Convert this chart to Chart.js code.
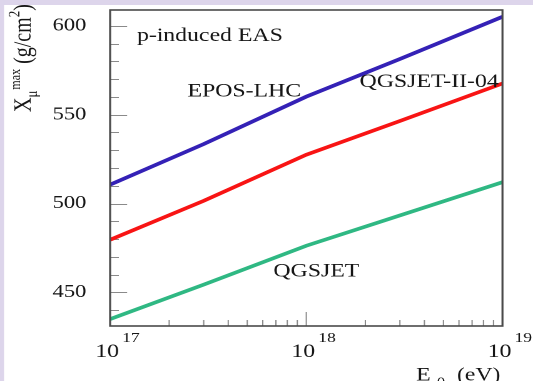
<!DOCTYPE html>
<html>
<head>
<meta charset="utf-8">
<title>Xmax muon - p-induced EAS</title>
<script src="https://cdn.jsdelivr.net/npm/chart.js@4/dist/chart.umd.min.js"></script>
<style>
  html, body { margin: 0; padding: 0; background: #ffffff; }
</style>
</head>
<body>
<!-- drawn 426 wide, shown 533 wide (ROOT-style wide aspect) -->
<canvas id="xmaxChart" width="426" height="381" style="width:533px;height:381px"></canvas>
<script>
// Primary energy E0 (eV)
const energies = [1e17, 3e17, 1e18, 3e18, 1e19];

// Muon production depth maximum Xmax (g/cm2) per hadronic model
const eposLhc    = [510.6, 533.5, 560.2, 581.4, 605.2];
const qgsjetII04 = [479.6, 501.5, 527.5, 546.5, 567.6];
const qgsjet     = [434.9, 454.3, 476.2, 493.3, 512.0];

// Axis ticks
const xTicks = [1e17, 1e18, 1e19];
const yTicks = [450, 500, 550, 600];

const SERIF = '"Liberation Serif", "Times New Roman", serif';
const INK = '#161616';

function toPoints(values) {
    return energies.map(function (e, i) { return { x: e, y: values[i] }; });
}

// Frame, inner ticks, exponent labels, titles and model names
const rootStyle = {
    id: 'rootStyle',
    beforeDraw: function (chart) {
        const ctx = chart.ctx;
        ctx.save();
        ctx.fillStyle = '#ffffff';
        ctx.fillRect(0, 0, chart.width, chart.height);
        ctx.fillStyle = '#ddd5eb';
        ctx.fillRect(0, 0, chart.width, 5);
        ctx.fillRect(0, 0, 3.2, chart.height);
        ctx.restore();
    },
    beforeDatasetsDraw: function (chart) {
        const ctx = chart.ctx;
        const area = chart.chartArea;
        const xs = chart.scales.x;
        const ys = chart.scales.y;
        ctx.save();
        ctx.strokeStyle = '#8a8a8a';
        ctx.lineWidth = 1;
        ctx.beginPath();
        // y ticks every 10, long ones on the labelled values
        for (let v = 440; v <= 600; v += 10) {
            const py = Math.round(ys.getPixelForValue(v)) + 0.5;
            const len = yTicks.indexOf(v) >= 0 ? 13.6 : 7;
            ctx.moveTo(area.left, py);
            ctx.lineTo(area.left + len, py);
        }
        // x ticks: decades long, 2..9 short
        for (let d = 17; d < 19; d++) {
            for (let m = 1; m <= 9; m++) {
                const v = m * Math.pow(10, d);
                const px = xs.getPixelForValue(v);
                const len = m === 1 ? 14 : 6;
                ctx.moveTo(px, area.bottom);
                ctx.lineTo(px, area.bottom - len);
            }
        }
        ctx.stroke();
        ctx.restore();
    },
    afterDraw: function (chart) {
        const ctx = chart.ctx;
        const area = chart.chartArea;
        const xs = chart.scales.x;
        const ys = chart.scales.y;
        ctx.save();

        // frame
        ctx.strokeStyle = '#4a4a4a';
        ctx.lineWidth = 1.6;
        ctx.strokeRect(area.left, area.top, area.right - area.left, area.bottom - area.top);

        ctx.fillStyle = INK;
        ctx.textBaseline = 'alphabetic';

        // x tick labels 10^n
        xTicks.forEach(function (v) {
            const px = xs.getPixelForValue(v);
            ctx.font = '19px ' + SERIF;
            ctx.textAlign = 'center';
            ctx.fillText('10', px - 2.4, 357);
            ctx.font = '14px ' + SERIF;
            ctx.textAlign = 'left';
            ctx.fillText(String(Math.round(Math.log10(v))), px + 9.6, 342);
        });

        // x title: E_0 (eV)
        let tx = area.right - 69;
        ctx.textAlign = 'left';
        ctx.font = '19px ' + SERIF;
        ctx.fillText('E', tx, 380.5);
        tx += ctx.measureText('E').width + 5;
        ctx.font = '13px ' + SERIF;
        ctx.fillText('0', tx, 386);
        tx += ctx.measureText('0').width + 9.5;
        ctx.font = '19px ' + SERIF;
        ctx.fillText('(eV)', tx, 380.5);

        // y title: X_mu^max (g/cm^2), rotated
        ctx.save();
        ctx.translate(24.5, 112);
        ctx.rotate(-Math.PI / 2);
        const parts = [
            { t: 'X', size: 20, dy: 0 },
            { t: '\u03bc', size: 13, dy: 5 },
            { t: 'max', size: 12, dy: -8.5 },
            { t: ' (g/cm', size: 20, dy: 0 },
            { t: '2', size: 13, dy: -9 },
            { t: ')', size: 20, dy: 0 }
        ];
        let ux = 0;
        parts.forEach(function (p) {
            ctx.font = p.size + 'px ' + SERIF;
            ctx.fillText(p.t, ux, p.dy);
            ux += ctx.measureText(p.t).width + (p.t === '\u03bc' ? 1 : 0);
        });
        ctx.restore();

        // panel text and model names, placed in data coordinates
        ctx.font = '19px ' + SERIF;
        ctx.textAlign = 'left';
        const notes = [
            { t: 'p-induced EAS', x: 1.37e17, y: 591.5 },
            { t: 'EPOS-LHC', x: 2.48e17, y: 560.4 },
            { t: 'QGSJET-II-04', x: 1.87e18, y: 565.7 },
            { t: 'QGSJET', x: 6.8e17, y: 458.9 }
        ];
        notes.forEach(function (n) {
            ctx.fillText(n.t, xs.getPixelForValue(n.x), ys.getPixelForValue(n.y));
        });

        ctx.restore();
    }
};

const ctx = document.getElementById('xmaxChart').getContext('2d');
const xmaxChart = new Chart(ctx, {
    type: 'line',
    data: {
        datasets: [
            { label: 'EPOS-LHC', data: toPoints(eposLhc), borderColor: '#3421b6' },
            { label: 'QGSJET-II-04', data: toPoints(qgsjetII04), borderColor: '#f81414' },
            { label: 'QGSJET', data: toPoints(qgsjet), borderColor: '#2fb883' }
        ]
    },
    options: {
        responsive: false,
        devicePixelRatio: 2,
        animation: false,
        events: [],
        layout: { padding: { top: 10, right: 24.4, bottom: 0, left: 0 } },
        elements: {
            line: { borderWidth: 3.6, tension: 0, borderCapStyle: 'butt' },
            point: { radius: 0 }
        },
        scales: {
            x: {
                type: 'logarithmic',
                min: 1e17,
                max: 1e19,
                grid: { display: false, drawTicks: false },
                border: { display: false },
                ticks: { display: false },
                afterFit: function (scale) {
                    scale.height = 55;
                    scale.paddingLeft = 0;
                    scale.paddingRight = 0;
                }
            },
            y: {
                type: 'linear',
                min: 431,
                max: 609,
                grid: { display: false, drawTicks: false },
                border: { display: false },
                afterBuildTicks: function (scale) {
                    scale.ticks = yTicks.map(function (v) { return { value: v }; });
                },
                ticks: {
                    color: INK,
                    padding: 19,
                    font: { family: SERIF, size: 18 }
                },
                afterFit: function (scale) {
                    scale.width = 88;
                    scale.paddingTop = 0;
                    scale.paddingBottom = 0;
                }
            }
        },
        plugins: {
            legend: { display: false },
            tooltip: { enabled: false }
        }
    },
    plugins: [rootStyle]
});
</script>
</body>
</html>
